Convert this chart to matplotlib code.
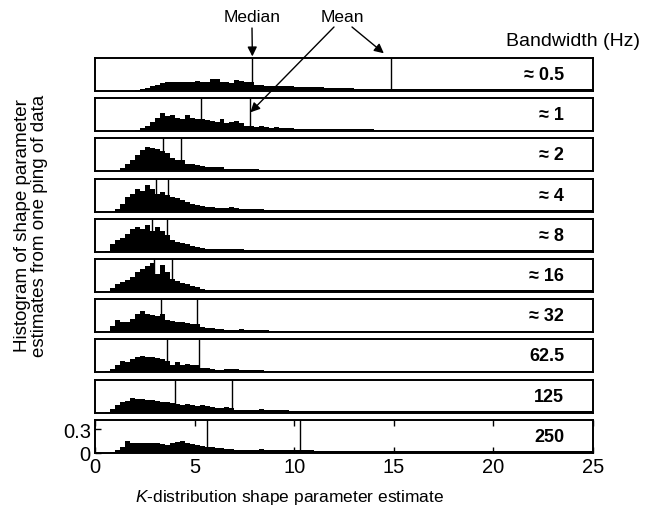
import matplotlib.pyplot as plt
import numpy as np

plt.rcParams["font.family"] = ["Liberation Sans", "DejaVu Sans"]
plt.rcParams["mathtext.fontset"] = "custom"
plt.rcParams["mathtext.rm"] = "Liberation Sans"
plt.rcParams["mathtext.it"] = "Liberation Sans:italic"

BANDWIDTHS = ["≈ 0.5", "≈ 1", "≈ 2", "≈ 4", "≈ 8", "≈ 16", "≈ 32", "62.5", "125", "250"]
MEDIANS = [7.9, 5.3, 3.4, 3.05, 2.85, 2.95, 3.3, 3.6, 4.0, 5.6]
MEANS = [14.85, 7.8, 4.3, 3.65, 3.6, 3.85, 5.1, 5.2, 6.9, 10.3]

# bins: 0.25 wide from 0 to 10, 0.5 wide from 10 to 25
EDGES = np.concatenate([np.arange(0, 10, 0.25), np.arange(10, 25.01, 0.5)])

# histogram heights (hundredths), one list per bandwidth
HIST_0_5 = [0, 0, 0, 0, 0, 0, 0, 0, 1, 2, 4, 6, 8, 10, 11, 11, 12, 12, 11, 12,
            13, 11, 12, 15, 15, 11, 12, 10, 14, 13, 11, 12, 8, 8, 7, 7, 7, 6, 6, 6,
            5, 5, 5, 4, 4, 4, 3, 3, 3, 3, 3, 3, 3, 3, 3, 3, 3, 3, 3, 3,
            3, 3, 3, 3, 3, 2, 2, 2, 2, 2]
HIST_1 = [0, 0, 0, 0, 0, 0, 0, 0, 1, 4, 7, 12, 17, 23, 19, 21, 17, 16, 21, 17,
          16, 15, 14, 13, 12, 15, 11, 12, 13, 10, 6, 6, 5, 6, 5, 4, 5, 4, 4, 4,
          3, 3, 3, 3, 3, 3, 3, 3, 2, 2, 2, 2, 2, 2, 2, 2, 2, 2, 2, 2,
          2, 2, 2, 2, 2, 2, 2, 2, 2, 2]
HIST_2 = [0, 0, 0, 0, 1, 4, 10, 15, 21, 27, 31, 30, 29, 26, 23, 17, 15, 15, 10, 9,
          8, 7, 5, 5, 5, 6, 3, 3, 3, 3, 3, 3, 3, 2, 2, 2, 2, 2, 2, 2,
          2, 2, 2, 2, 2, 2, 2, 2, 2, 2, 2, 2, 2, 2, 2, 2, 2, 2, 2, 2,
          2, 2, 2, 2, 2, 2, 2, 2, 2, 2]
HIST_4 = [0, 0, 0, 0, 3, 10, 19, 23, 29, 26, 34, 29, 23, 25, 21, 19, 17, 15, 12, 10,
          8, 7, 6, 6, 5, 5, 4, 6, 4, 3, 3, 3, 3, 3, 2, 2, 2, 2, 2, 2,
          2, 2, 2, 2, 2, 2, 2, 2, 2, 2, 2, 2, 2, 2, 2, 2, 2, 2, 2, 2,
          2, 2, 2, 2, 2, 2, 2, 2, 2, 2]
HIST_8 = [0, 0, 1, 10, 15, 18, 23, 29, 31, 29, 34, 27, 31, 26, 21, 15, 13, 11, 10, 8,
          6, 5, 4, 4, 3, 3, 3, 3, 3, 3, 2, 2, 2, 2, 2, 2, 2, 2, 2, 2,
          2, 2, 2, 2, 2, 2, 2, 2, 2, 2, 2, 2, 2, 2, 2, 2, 2, 2, 2, 2,
          2, 2, 2, 2, 2, 2, 2, 2, 2, 2]
HIST_16 = [0, 0, 0, 5, 10, 13, 15, 19, 25, 29, 33, 37, 23, 34, 25, 17, 14, 12, 10, 8,
           7, 4, 3, 3, 3, 3, 3, 2, 2, 2, 2, 2, 2, 2, 2, 2, 2, 2, 2, 2,
           2, 2, 2, 2, 2, 2, 2, 2, 2, 2, 2, 2, 2, 2, 2, 2, 2, 2, 2, 2,
           2, 2, 2, 2, 2, 2, 2, 2, 2, 2]
HIST_32 = [0, 0, 0, 8, 15, 13, 13, 17, 23, 27, 23, 22, 21, 23, 15, 14, 13, 13, 12, 11,
           10, 6, 5, 5, 4, 4, 3, 3, 3, 4, 3, 3, 3, 3, 3, 2, 2, 2, 2, 2,
           2, 2, 2, 2, 2, 2, 2, 2, 2, 2, 2, 2, 2, 2, 2, 2, 2, 2, 2, 2,
           2, 2, 2, 2, 2, 2, 2, 2, 2, 2]
HIST_62_5 = [0, 0, 2, 4, 10, 14, 13, 17, 19, 21, 20, 19, 18, 17, 15, 10, 13, 10, 11, 10,
             9, 6, 5, 4, 3, 3, 4, 4, 4, 3, 3, 3, 3, 3, 2, 2, 2, 2, 2, 2,
             2, 2, 2, 2, 2, 2, 2, 2, 2, 2, 2, 2, 2, 2, 2, 2, 2, 2, 2, 2,
             2, 2, 2, 2, 2, 2, 2, 2, 2, 2]
HIST_125 = [0, 0, 1, 5, 10, 13, 15, 19, 17, 17, 16, 16, 15, 14, 13, 12, 11, 10, 11, 10,
            8, 10, 8, 7, 6, 6, 7, 6, 3, 3, 3, 3, 3, 4, 3, 3, 3, 3, 3, 2,
            2, 2, 2, 2, 2, 2, 2, 2, 2, 2, 2, 2, 2, 2, 2, 2, 2, 2, 2, 2,
            2, 2, 2, 2, 2, 2, 2, 2, 2, 2]
HIST_250 = [0, 0, 0, 1, 4, 8, 15, 13, 13, 13, 13, 12, 13, 11, 10, 13, 14, 15, 12, 11,
            10, 9, 8, 7, 6, 6, 5, 5, 4, 4, 4, 3, 3, 5, 4, 3, 3, 3, 3, 3,
            3, 3, 2, 2, 2, 2, 2, 2, 2, 2, 2, 2, 2, 2, 2, 2, 2, 2, 2, 2,
            2, 2, 2, 2, 2, 2, 2, 2, 2, 2]

HISTS = [HIST_0_5, HIST_1, HIST_2, HIST_4, HIST_8, HIST_16, HIST_32,
         HIST_62_5, HIST_125, HIST_250]

W, H = 645, 510
YMAX = 0.42

fig = plt.figure(figsize=(W / 100, H / 100), dpi=100)

axes = []
for i, (hist, label) in enumerate(zip(HISTS, BANDWIDTHS)):
    top = 59 + i * 40.2
    ax = fig.add_axes([95 / W, 1 - (top + 33) / H, 498 / W, 33 / H])
    ax.stairs(np.array(hist) / 100, EDGES, fill=True, color="black", lw=0)
    ax.axvline(MEDIANS[i], color="black", lw=1)
    ax.axvline(MEANS[i], color="black", lw=1)
    ax.set_xlim(0, 25)
    ax.set_ylim(0, YMAX)
    for s in ax.spines.values():
        s.set_linewidth(1.4)
    ax.text(23.55, YMAX / 2, label, ha="right", va="center",
            fontsize=13, fontweight="bold")
    if i < len(HISTS) - 1:
        ax.set_xticks([])
        ax.set_yticks([])
    else:
        ax.set_xticks(np.arange(0, 26, 5))
        ax.set_yticks([0, 0.3], labels=["0", "0.3"])
        ax.tick_params(direction="in", length=4, width=1, top=True,
                       labelsize=14.5, pad=3)
    axes.append(ax)

# Median / Mean annotations
arrow = dict(arrowstyle="-|>", color="black", lw=1, mutation_scale=14,
             shrinkA=0, shrinkB=0)
fig.text(252 / W, 1 - 18 / H, "Median", ha="center", va="center", fontsize=12.5)
fig.text(342 / W, 1 - 18 / H, "Mean", ha="center", va="center", fontsize=12.5)
axes[0].annotate("", xy=(MEDIANS[0], YMAX + 0.02), xycoords="data",
                 xytext=(252 / W, 1 - 29 / H), textcoords="figure fraction",
                 arrowprops=arrow, annotation_clip=False)
axes[0].annotate("", xy=(MEANS[0] - 0.35, YMAX + 0.06), xycoords="data",
                 xytext=(352 / W, 1 - 28 / H), textcoords="figure fraction",
                 arrowprops=arrow, annotation_clip=False)
axes[1].annotate("", xy=(MEANS[1], 0.24), xycoords="data",
                 xytext=(334 / W, 1 - 28 / H), textcoords="figure fraction",
                 arrowprops=arrow, annotation_clip=False)

fig.text(640 / W, 1 - 42 / H, "Bandwidth (Hz)", ha="right", va="center", fontsize=14)

fig.text(31 / W, 1 - 226 / H,
         "Histogram of shape parameter\nestimates from one ping of data",
         rotation=90, ha="center", va="center", fontsize=13.5,
         multialignment="center", linespacing=1.0)

fig.text(290 / W, 1 - 498 / H, r"$\mathit{K}$-distribution shape parameter estimate",
         ha="center", va="center", fontsize=12.5)

fig.savefig("out.png", dpi=100)
